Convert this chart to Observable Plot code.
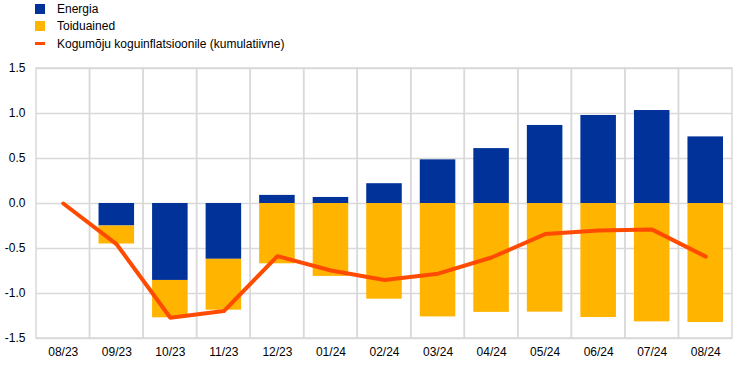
<!DOCTYPE html>
<html>
<head>
<meta charset="utf-8">
<script src="https://cdn.jsdelivr.net/npm/d3@7"></script>
<script src="https://cdn.jsdelivr.net/npm/@observablehq/plot@0.6"></script>
<style>
  body { margin: 0; background: #fff; font-family: "Liberation Sans", Arial, sans-serif; }
  #wrap { position: relative; width: 744px; height: 366px; }
  #legend { position: absolute; left: 35px; top: 0; font-size: 12px; color: #000; }
  .item { display: flex; align-items: center; height: 17.5px; }
  .sw { width: 10px; height: 10px; margin-right: 12px; }
  .ln { width: 10px; height: 3px; margin-right: 12px; }
</style>
</head>
<body>
<div id="wrap">
  <div id="chart"></div>
  <div id="legend"></div>
</div>
<script>
const months = ["08/23","09/23","10/23","11/23","12/23","01/24","02/24","03/24","04/24","05/24","06/24","07/24","08/24"];
const energia = [0, -0.25, -0.855, -0.62, 0.09, 0.067, 0.22, 0.485, 0.61, 0.867, 0.978, 1.033, 0.74];
const toiduained = [0, -0.20, -0.415, -0.565, -0.67, -0.81, -1.063, -1.26, -1.21, -1.207, -1.267, -1.315, -1.322];
const kogumoju = [0, -0.455, -1.27, -1.195, -0.585, -0.745, -0.85, -0.78, -0.6, -0.34, -0.30, -0.29, -0.59];
const yTicks = [-1.5, -1.0, -0.5, 0.0, 0.5, 1.0, 1.5];

const seriesNames = ["Energia", "Toiduained", "Kogumõju koguinflatsioonile (kumulatiivne)"];
const colors = ["#003299", "#FFB400", "#FF4B00"];

const barData = [
  ...months.map((m, i) => ({month: m, series: seriesNames[0], value: energia[i]})),
  ...months.map((m, i) => ({month: m, series: seriesNames[1], value: toiduained[i]}))
];
const lineData = months.map((m, i) => ({month: m, value: kogumoju[i]}));

const plot = Plot.plot({
  width: 744,
  height: 366,
  marginLeft: 36,
  marginRight: 12,
  marginTop: 68,
  marginBottom: 28,
  style: {fontFamily: "Liberation Sans, Arial, sans-serif", fontSize: "12px", color: "#000", background: "#fff"},
  x: {domain: months, padding: 0, round: false, label: null, tickSize: 0, tickPadding: 9},
  y: {domain: [-1.5, 1.5], ticks: yTicks, tickFormat: d => d.toFixed(1), label: null, tickSize: 0, tickPadding: 11},
  color: {domain: seriesNames.slice(0, 2), range: colors.slice(0, 2)},
  marks: [
    Plot.ruleY(yTicks, {stroke: "#d9d9d9", strokeWidth: 1.5}),
    Plot.barY(months, {x: d => d, y1: -1.5, y2: 1.5, fill: "none", stroke: "#d9d9d9", strokeWidth: 1.5}),
    Plot.barY(barData, {x: "month", y: "value", fill: "series", insetLeft: 9, insetRight: 9}),
    Plot.line(lineData, {x: "month", y: "value", stroke: colors[2], strokeWidth: 4, strokeLinejoin: "round"})
  ]
});
document.getElementById("chart").appendChild(plot);

const legend = document.getElementById("legend");
seriesNames.forEach((name, i) => {
  const item = document.createElement("div");
  item.className = "item";
  const sw = document.createElement("div");
  sw.className = i < 2 ? "sw" : "ln";
  sw.style.background = colors[i];
  const t = document.createElement("span");
  t.textContent = name;
  item.appendChild(sw);
  item.appendChild(t);
  legend.appendChild(item);
});
</script>
</body>
</html>
